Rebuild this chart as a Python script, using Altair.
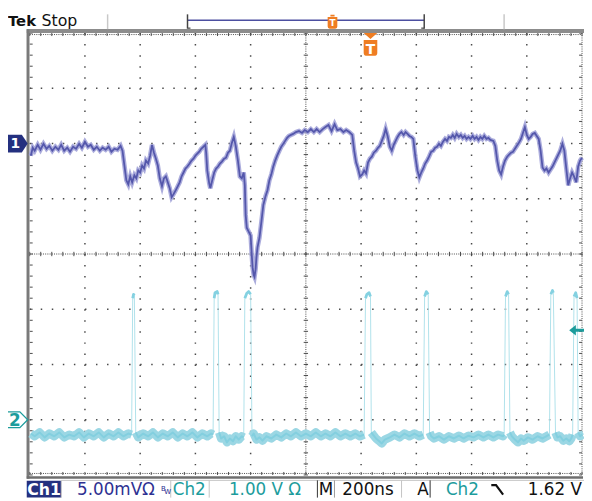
import altair as alt
import numpy as np
import pandas as pd

# Channel 1 (5.00 mV/div), time in ns from the left edge of the screen
ch1_time_ns = [
    4, 11, 18, 29, 39, 50, 61, 71, 82, 93, 104, 114, 125, 136, 146, 157, 168, 179, 189, 200,
    211, 221, 232, 243, 254, 264, 275, 286, 296, 307, 318, 329, 336,
    343, 350, 357, 364, 371, 379, 386, 393, 400, 407, 414, 421, 429, 436, 443, 450, 457, 464, 471, 479,
    486, 493, 500, 507, 514, 521, 529, 536, 543, 550, 557, 564, 571, 579, 586, 593, 600, 607, 614, 621,
    629, 636, 639, 643, 650, 654, 661, 668, 675, 682, 689, 696, 704, 711, 718, 725, 732, 739, 746, 754,
    761, 768, 775, 779, 782, 786, 793, 800, 804, 807, 811, 814, 818, 821, 825, 832, 839, 846, 854, 861,
    868, 875, 882, 889, 896, 904, 911, 918, 925, 932, 939, 946, 954, 964,
    975, 986, 996, 1007, 1018, 1029, 1039, 1050, 1061, 1071, 1082, 1093, 1104, 1114, 1125, 1136, 1146, 1157, 1168, 1175,
    1182, 1189, 1196, 1204, 1211, 1218, 1225, 1232, 1239, 1246, 1254, 1261, 1268, 1275, 1282, 1289, 1296, 1304, 1311, 1318,
    1325, 1332, 1339, 1346, 1354, 1361, 1368, 1375, 1382, 1389, 1396, 1404, 1411, 1418, 1425, 1432, 1439, 1446, 1454, 1461,
    1468, 1475, 1482, 1489, 1496, 1504, 1511, 1518, 1525, 1532, 1539, 1546, 1554, 1561, 1568, 1575, 1582, 1589, 1596, 1604,
    1611, 1618, 1625, 1632, 1639, 1646, 1654, 1661, 1668, 1679, 1686, 1693, 1700, 1707, 1714, 1721, 1729, 1736, 1743, 1750,
    1757, 1764, 1771, 1779, 1786, 1793, 1800, 1807, 1814, 1821, 1829, 1836, 1843, 1850, 1857, 1864, 1871, 1879, 1886, 1893,
    1900, 1907, 1914, 1921, 1929, 1936, 1943, 1950, 1957, 1964, 1971, 1979, 1986, 1993, 2000,
]
ch1_mv = [
    -1.10, -0.38, -0.65, -0.12, -0.56, -0.03, -0.47, -0.21, -0.65, -0.29, -0.56, -0.12, -0.65, -0.38, -0.74, -0.29, -0.47, -0.03, -0.38, 0.15,
    -0.29, -0.12, -0.56, -0.29, -0.65, -0.38, -0.56, -0.29, -0.74, -0.47, -0.56, -0.21, -0.65,
    -1.99, -3.33, -3.69, -2.97, -3.51, -2.88, -3.15, -2.44, -2.62, -1.99, -2.26, -1.54, -1.81, -1.10, -0.12, -0.83, -1.37, -1.99, -3.15, -3.87,
    -3.15, -2.97, -3.51, -4.04, -4.85, -4.58, -4.22, -3.87, -3.51, -2.97, -2.62, -2.26, -2.08, -1.81, -1.54, -1.37, -1.10, -0.92, -0.74, -0.47,
    -0.29, -0.12, -0.83, -2.44, -3.60, -4.04, -3.33, -2.62, -2.26, -2.08, -1.81, -1.63, -1.37, -1.28, -0.83, -0.65, 0.06, 0.60, -0.21, -1.54,
    -2.97, -3.15, -2.62, -3.78, -6.46, -7.62, -7.97, -8.33, -10.03, -11.19, -11.90, -12.08, -11.37, -10.30, -9.40, -8.51, -7.08, -5.56, -4.76, -4.22,
    -3.33, -2.79, -2.08, -1.54, -1.10, -0.65, -0.29, -0.03, 0.24, 0.51, 0.69, 0.78, 0.87, 1.04,
    1.13, 0.96, 1.22, 1.04, 1.31, 1.04, 1.31, 1.04, 1.31, 1.49, 1.67, 1.13, 1.76, 1.22, 1.31, 1.04, 1.22, 1.04, 0.78, -0.65,
    -1.72, -2.26, -2.97, -2.79, -2.44, -2.71, -1.72, -1.37, -1.19, -0.83, -0.65, -0.38, -0.21, 0.24, 0.69, 1.31, 0.69, -0.29, -0.65, -0.12,
    0.24, 0.60, 0.87, 1.04, 0.78, 1.04, 0.87, 0.69, 0.60, 0.42, -1.10, -2.44, -3.06, -2.62, -2.26, -1.81, -1.54, -1.19, -0.74, -0.65,
    -0.38, -0.29, -0.03, -0.21, 0.15, 0.42, 0.24, 0.60, 0.51, 0.78, 0.51, 0.87, 0.60, 0.78, 0.51, 0.69, 0.42, 0.60, 0.42, 0.69,
    0.42, 0.60, 0.33, 0.60, 0.42, 0.69, 0.42, 0.51, 0.33, 0.24, -0.21, -1.54, -2.44, -2.79, -2.08, -1.54, -1.19, -1.01, -0.83, -0.74,
    -0.47, -0.21, 0.06, 0.42, 0.96, 1.49, 0.78, 0.42, 0.60, 0.87, 0.96, 0.69, 0.42, -0.65, -2.17, -2.44, -2.26, -2.62, -2.35, -2.08,
    -1.72, -1.37, -1.01, -0.65, -0.03, -0.65, -2.26, -3.78, -3.15, -2.62, -2.97, -3.51, -2.08, -1.54, -1.28,
]

# Channel 2 (1.00 V/div)
ch2_time_ns = [
    4, 18, 36, 54, 71, 89, 107, 125, 143, 161, 179, 196, 214, 232, 250, 268, 286, 304, 321, 339, 357, 369,
    373, 376, 379, 384,
    393, 411, 429, 446, 464, 482, 500, 518, 536, 554, 571, 589, 607, 625, 643, 657, 664,
    668, 671, 679, 682, 686,
    693, 704, 714, 725, 736, 746, 757, 768, 775,
    779, 786, 793, 800, 805,
    811, 821, 832, 843, 857, 875, 893, 911, 929, 946, 964, 982, 1000, 1018, 1036, 1054, 1071, 1089, 1107, 1125,
    1143, 1161, 1179, 1196, 1211,
    1216, 1221, 1229, 1234, 1237,
    1243, 1254, 1264, 1275, 1286, 1304, 1321, 1339, 1357, 1375, 1393, 1411, 1425,
    1430, 1436, 1443, 1448,
    1454, 1464, 1482, 1500, 1518, 1536, 1554, 1571, 1589, 1607, 1625, 1643, 1661, 1679, 1696, 1714, 1718,
    1723, 1729, 1734, 1739,
    1746, 1757, 1768, 1779, 1789, 1804, 1821, 1839, 1857, 1875, 1882,
    1887, 1893, 1896, 1904,
    1911, 1921, 1932, 1943, 1954, 1961, 1966,
    1971, 1977, 1982, 1986,
    1993, 2000,
]
ch2_volts = [
    -0.25, -0.30, -0.23, -0.32, -0.25, -0.30, -0.23, -0.32, -0.27, -0.30, -0.23, -0.32, -0.25, -0.30, -0.23, -0.32, -0.25, -0.30, -0.23, -0.30, -0.25, -0.27,
    2.20, 2.27, 2.25, -0.23,
    -0.32, -0.25, -0.30, -0.23, -0.32, -0.25, -0.30, -0.23, -0.32, -0.25, -0.30, -0.23, -0.32, -0.25, -0.30, -0.25, -0.27,
    2.20, 2.30, 2.32, 2.27, -0.23,
    -0.34, -0.30, -0.41, -0.34, -0.39, -0.30, -0.36, -0.30, -0.32,
    2.20, 2.29, 2.32, 2.27, -0.30,
    -0.25, -0.36, -0.32, -0.38, -0.30, -0.34, -0.27, -0.32, -0.25, -0.30, -0.23, -0.30, -0.25, -0.30, -0.23, -0.30, -0.25, -0.30, -0.23, -0.30,
    -0.25, -0.30, -0.25, -0.30, -0.27,
    2.20, 2.27, 2.30, 2.23, -0.23,
    -0.27, -0.34, -0.38, -0.43, -0.36, -0.32, -0.27, -0.32, -0.25, -0.30, -0.25, -0.30, -0.27,
    2.23, 2.32, 2.27, -0.23,
    -0.30, -0.34, -0.30, -0.36, -0.30, -0.34, -0.29, -0.34, -0.29, -0.32, -0.27, -0.32, -0.27, -0.32, -0.27, -0.30, -0.27,
    2.23, 2.32, 2.27, -0.23,
    -0.30, -0.36, -0.41, -0.34, -0.38, -0.32, -0.36, -0.30, -0.34, -0.29, -0.27,
    2.27, 2.34, 2.30, -0.23,
    -0.32, -0.30, -0.38, -0.34, -0.39, -0.34, -0.27,
    2.23, 2.30, 2.20, -0.23,
    -0.30, -0.27,
]

CH1_MV_PER_DIV = 5.0
CH2_V_PER_DIV = 1.0
CH1_GROUND_DIV = 2
CH2_GROUND_DIV = -3
SCREEN_NS = 2000
TRIGGER_NS = 1234
TRIGGER_LEVEL_V = 1.62

# ---------------- geometry ----------------
W, H = 584, 493
GX0, GX1, GY0, GY1 = 22, 582, 22, 470          # graticule in chart px
PX_PER_NS = (GX1 - GX0) / SCREEN_NS
PX_PER_DIV = (GY1 - GY0) / 8
x_dom = [-GX0 / PX_PER_NS, SCREEN_NS + (W - GX1) / PX_PER_NS]
y_dom = [-4 - (H - GY1) / PX_PER_DIV, 4 + GY0 / PX_PER_DIV]
xs = alt.Scale(domain=x_dom, nice=False, zero=False)
ys = alt.Scale(domain=y_dom, nice=False, zero=False)


def X(f):
    return alt.X(f, type="quantitative", scale=xs, axis=None)


def Y(f):
    return alt.Y(f, type="quantitative", scale=ys, axis=None)


one = pd.DataFrame({"k": [0]})
layers = []

# ---------------- graticule ----------------
GRID = "#4a4a4a"
maj_t = [t for t in range(200, 2000, 200) if t != 1000]
maj_d = [d for d in range(-3, 4) if d != 0]
gv = pd.DataFrame({"t": maj_t, "y1": 4.0, "y2": -4.0})
gh = pd.DataFrame({"d": maj_d, "t1": 0.0, "t2": float(SCREEN_NS)})
layers.append(alt.Chart(gv).mark_rule(color=GRID, strokeWidth=1.5, strokeDash=[1.5, 9.7]).encode(
    x=X("t"), y=Y("y1"), y2="y2"))
layers.append(alt.Chart(gh).mark_rule(color=GRID, strokeWidth=1.5, strokeDash=[1.5, 9.7]).encode(
    y=Y("d"), x=X("t1"), x2="t2"))

# dense dotted centre lines and right edge
dv = pd.DataFrame({"t": [1000.0, float(SCREEN_NS)], "y1": 4.0, "y2": -4.0})
dh = pd.DataFrame({"d": [0.0, 4 - 1.5 / PX_PER_DIV, -4 + 1.5 / PX_PER_DIV], "t1": 0.0, "t2": float(SCREEN_NS)})
layers.append(alt.Chart(dv).mark_rule(color=GRID, strokeWidth=1, strokeDash=[1, 1.24]).encode(
    x=X("t"), y=Y("y1"), y2="y2"))
layers.append(alt.Chart(dh).mark_rule(color=GRID, strokeWidth=1, strokeDash=[1, 1.24]).encode(
    y=Y("d"), x=X("t1"), x2="t2"))

# minor ticks
rows = []
tns = 3 / PX_PER_NS
tdv = 3 / PX_PER_DIV
cns = 2.2 / PX_PER_NS
cdv = 2.2 / PX_PER_DIV
for t in np.arange(0, SCREEN_NS + 0.1, SCREEN_NS / 50):
    rows.append((t, t, 4, 4 - tdv))
    rows.append((t, t, -4, -4 + tdv))
    rows.append((t, t, -cdv, cdv))
for d in np.arange(-4, 4.001, 0.2):
    rows.append((0, tns, d, d))
    rows.append((SCREEN_NS - tns, SCREEN_NS, d, d))
    rows.append((1000 - cns, 1000 + cns, d, d))
ticks = pd.DataFrame(rows, columns=["t1", "t2", "y1", "y2"])
layers.append(alt.Chart(ticks).mark_rule(color=GRID, strokeWidth=1).encode(
    x=X("t1"), x2="t2", y=Y("y1"), y2="y2"))

# frame (top bar, left bar, bottom bar)
layers.append(alt.Chart(one).mark_rule(color="#8c8c8c", strokeWidth=4.3).encode(
    x=alt.value(19), x2=alt.value(W), y=alt.value(19.9)))
layers.append(alt.Chart(one).mark_rule(color="#7a7a7a", strokeWidth=3).encode(
    x=alt.value(20.3), y=alt.value(18), y2=alt.value(473.8)))
layers.append(alt.Chart(one).mark_rule(color="#6e6e6e", strokeWidth=2.4).encode(
    x=alt.value(19), x2=alt.value(583), y=alt.value(472.6)))

# ---------------- traces ----------------
df1 = pd.DataFrame({"t": ch1_time_ns, "mv": ch1_mv})
df1["d"] = df1["mv"] / CH1_MV_PER_DIV + CH1_GROUND_DIV
layers.append(alt.Chart(df1).mark_line(color="#9c9ed6", strokeWidth=4.6, opacity=0.85,
                                       strokeJoin="miter").encode(x=X("t"), y=Y("d")))
layers.append(alt.Chart(df1).mark_line(color="#5457ab", strokeWidth=1.8,
                                       strokeJoin="miter").encode(x=X("t"), y=Y("d")))

df2 = pd.DataFrame({"t": ch2_time_ns, "v": ch2_volts})
df2["d"] = df2["v"] / CH2_V_PER_DIV + CH2_GROUND_DIV
df2["hi"] = df2["v"] > 1
df2["seg"] = (df2["hi"] != df2["hi"].shift()).cumsum()
lo = df2[~df2["hi"]]
hi = df2[df2["hi"]]
layers.append(alt.Chart(df2).mark_line(color="#b0e2eb", strokeWidth=1).encode(x=X("t"), y=Y("d")))
layers.append(alt.Chart(lo).mark_line(color="#9bd7e4", strokeWidth=8.5, strokeJoin="round").encode(
    x=X("t"), y=Y("d"), detail="seg:N"))
layers.append(alt.Chart(lo).mark_line(color="#83cfdf", strokeWidth=2, strokeJoin="round").encode(
    x=X("t"), y=Y("d"), detail="seg:N"))
layers.append(alt.Chart(hi).mark_line(color="#84d1e1", strokeWidth=2.8, strokeJoin="round").encode(
    x=X("t"), y=Y("d"), detail="seg:N"))

# ---------------- markers ----------------
NAVY = "#24307f"
TEAL = "#1c9c9c"
ORANGE = "#ef7d22"

mk = pd.DataFrame({"d1": [CH1_GROUND_DIV], "d2": [CH2_GROUND_DIV],
                   "dt": [TRIGGER_LEVEL_V / CH2_V_PER_DIV + CH2_GROUND_DIV], "tt": [TRIGGER_NS]})
layers.append(alt.Chart(mk).mark_point(shape="M-1,-0.9L0.4,-0.9L1,0L0.4,0.9L-1,0.9Z", size=400,
                                       filled=True, color=NAVY, opacity=1).encode(x=alt.value(10), y=Y("d1")))
layers.append(alt.Chart(mk).mark_text(text="1", color="white", fontSize=14, fontWeight="bold",
                                      font="DejaVu Sans", baseline="middle", align="center", dy=1).encode(
    x=alt.value(7.5), y=Y("d1")))
layers.append(alt.Chart(mk).mark_point(shape="M-1,-0.8L0.2,-0.8L1,0L0.2,0.8L-1,0.8", size=400,
                                       filled=False, color=TEAL, strokeWidth=1.3, opacity=1).encode(
    x=alt.value(10), y=Y("d2")))
layers.append(alt.Chart(mk).mark_text(text="2", color=TEAL, fontSize=17, fontWeight="bold",
                                      font="DejaVu Sans", baseline="middle", align="center", dy=1).encode(
    x=alt.value(7), y=Y("d2")))
layers.append(alt.Chart(mk).mark_point(
    shape="M-1,0L-0.25,-0.6L-0.25,-0.16L1,-0.16L1,0.16L-0.25,0.16L-0.25,0.6Z", size=324,
    filled=True, color=TEAL, opacity=1).encode(x=alt.value(578), y=Y("dt")))
layers.append(alt.Chart(mk).mark_point(
    shape="M-0.6,-1L0.6,-1L0,-0.48Z M-0.6,-0.39L0.6,-0.39L0.6,0.75Q0.6,1 0.3,1L-0.3,1Q-0.6,1 -0.6,0.75Z",
    size=529, filled=True, color=ORANGE, opacity=1).encode(x=X("tt"), y=alt.value(33.5)))
layers.append(alt.Chart(mk).mark_text(text="T", color="white", fontSize=14, fontWeight="bold",
                                      font="DejaVu Sans", baseline="alphabetic", align="center").encode(
    x=X("tt"), y=alt.value(43)))

# ---------------- top bar ----------------
def rule(x1, y1, x2=None, y2=None, color="#444", w=1.0):
    enc = {"x": alt.value(x1), "y": alt.value(y1)}
    if x2 is not None:
        enc["x2"] = alt.value(x2)
    if y2 is not None:
        enc["y2"] = alt.value(y2)
    return alt.Chart(one).mark_rule(color=color, strokeWidth=w).encode(**enc)


def label(s, x, y, size=17, color="#111", weight="normal", align="left"):
    return alt.Chart(one).mark_text(text=s, fontSize=size, color=color, fontWeight=weight,
                                    font="DejaVu Sans", align=align, baseline="alphabetic").encode(
        x=alt.value(x), y=alt.value(y))


layers += [
    label("Tek", 0, 15, size=15, weight="bold"),
    label("Stop", 34, 15, size=16),
    rule(101, 3, y2=18, color="#c8c8c8", w=1.5),
    rule(503, 3, y2=18, color="#c8c8c8", w=1.5),
    rule(182, 9, x2=422, color="#4c4fa0", w=1.3),
    rule(182, 3, y2=17.5, color="#444", w=1.5),
    rule(182, 17, x2=185, color="#444", w=1.2),
    rule(422, 3, y2=17.5, color="#444", w=1.5),
    rule(419, 17, x2=422, color="#444", w=1.2),
    alt.Chart(one).mark_point(
        shape="M-0.3,-1L0.3,-1L0.3,-0.75L-0.3,-0.75Z M-0.7,-0.7L0.7,-0.7L0.7,0.7Q0.7,1 0.4,1L-0.4,1Q-0.7,1 -0.7,0.7Z",
        size=196, filled=True, color=ORANGE, opacity=1).encode(x=alt.value(329), y=alt.value(10.5)),
    label("T", 329, 15, size=9, color="white", weight="bold", align="center"),
]

# ---------------- status bar ----------------
layers += [
    rule(54, 475.5, x2=W, color="#c4c4c4", w=1),
    alt.Chart(one).mark_rect(color=NAVY).encode(x=alt.value(19), x2=alt.value(54),
                                                y=alt.value(476), y2=alt.value(H)),
    rule(54, 475.5, y2=H, color="#c4c4c4"),
    rule(165, 475.5, y2=H, color="#c4c4c4"),
    rule(204, 475.5, y2=H, color="#c4c4c4"),
    rule(313.7, 475.5, y2=H, color="#333"),
    rule(331, 475.5, y2=H, color="#999"),
    rule(399, 475.5, y2=H, color="#c4c4c4"),
    rule(428, 475.5, y2=H, color="#333"),
    label("Ch1", 36.5, 490, size=16, color="white", weight="bold", align="center"),
    label("5.00mVΩ", 70, 490, color="#2e3192"),
    label("B", 155, 486, size=7, color="#2e3192"),
    label("W", 158.5, 489, size=7, color="#2e3192"),
    label("Ch2", 167, 490, color=TEAL),
    label("1.00 V Ω", 224, 490, color=TEAL),
    label("M", 315, 490),
    label("200ns", 339, 490),
    label("A", 415, 490),
    label("Ch2", 444, 490, color=TEAL),
    alt.Chart(one).mark_point(shape="M-1,-0.7L-0.2,-0.7L1,0.9", size=144, filled=False,
                              color="#111", strokeWidth=2.2, opacity=1).encode(
        x=alt.value(496), y=alt.value(484.5)),
    label("1.62 V", 527, 490),
]

chart = alt.layer(*layers).properties(
    width=W, height=H, padding=0, background="white",
    autosize=alt.AutoSizeParams(type="none"),
).configure_view(stroke=None)

chart.save("out.html", embed_options={"renderer": "svg", "actions": False})
